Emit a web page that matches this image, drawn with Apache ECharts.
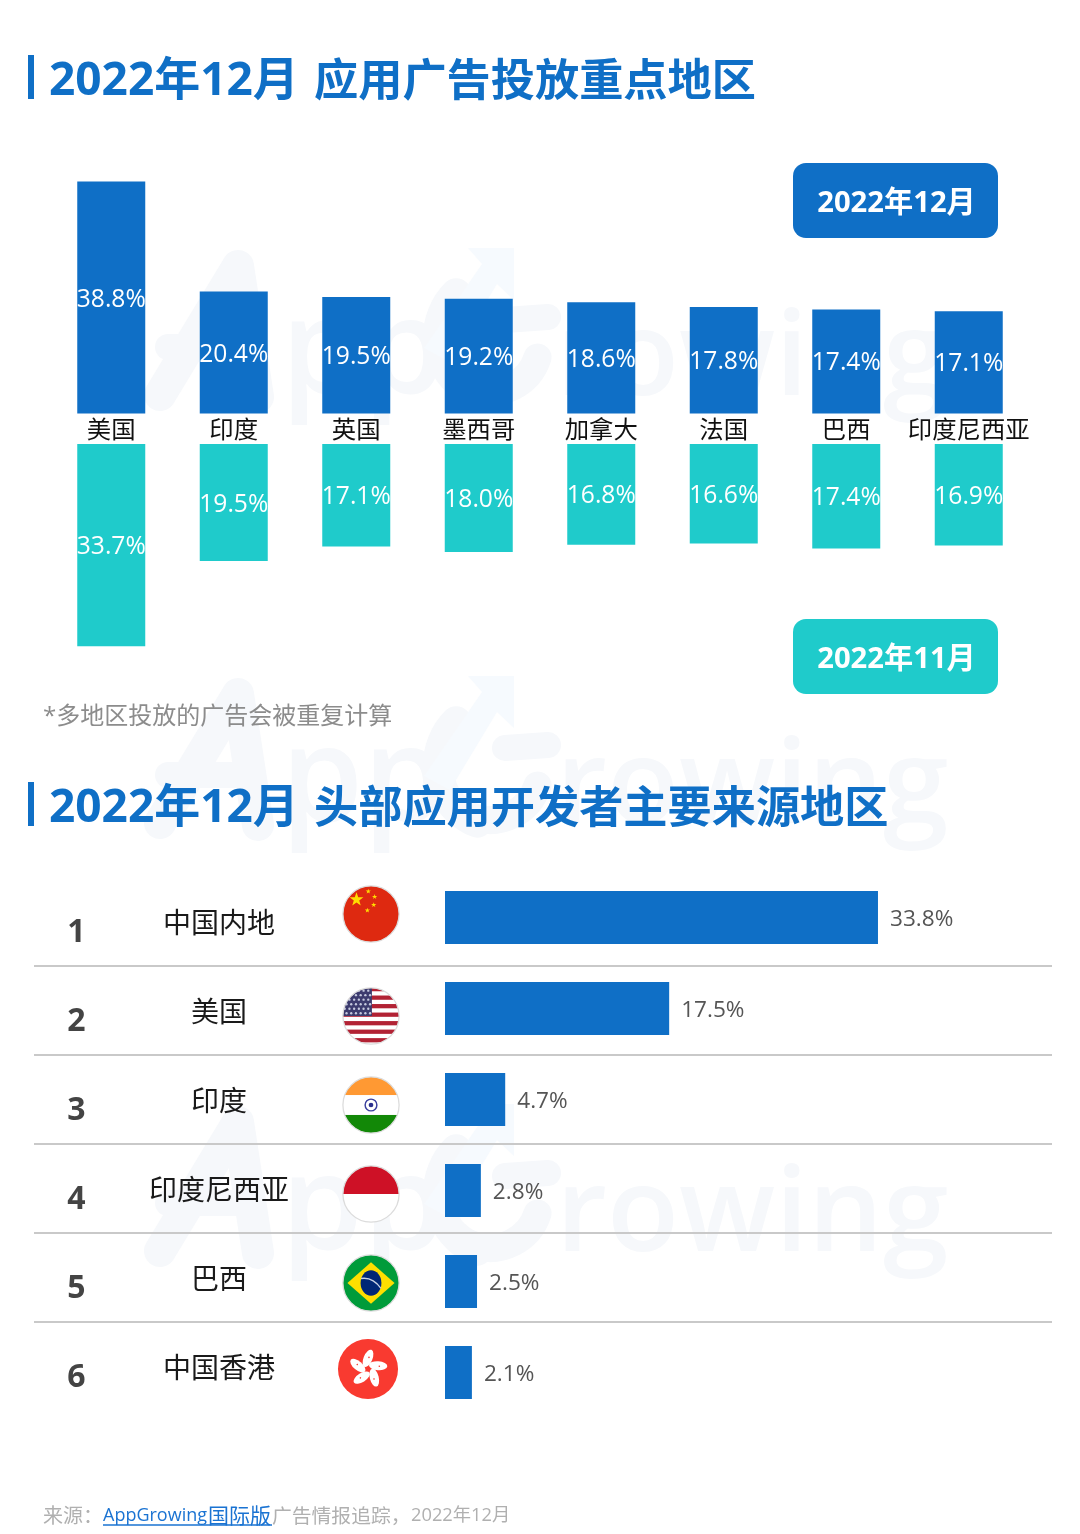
<!DOCTYPE html>
<html>
<head>
<meta charset="utf-8">
<title>AppGrowing</title>
<script src="https://cdn.jsdelivr.net/npm/echarts@6/dist/echarts.min.js"></script>
<style>
html,body{margin:0;padding:0;background:#fff;}
#main{width:1080px;height:1534px;}
</style>
</head>
<body>
<div id="main"></div>
<script>
// top chart: share of ads per region
var regions = ['美国','印度','英国','墨西哥','加拿大','法国','巴西','印度尼西亚'];
var dec2022 = [38.8,20.4,19.5,19.2,18.6,17.8,17.4,17.1];
var nov2022 = [33.7,19.5,17.1,18.0,16.8,16.6,17.4,16.9];
// bottom chart: developer origin
var ranks = ['1','2','3','4','5','6'];
var devRegions = ['中国内地','美国','印度','印度尼西亚','巴西','中国香港'];
var devShare = [33.8,17.5,4.7,2.8,2.5,2.1];

var BLUE = '#0f6fc6', TEAL = '#1fcbcb', WM = '#f6f8fb';
var FONT = '"Open Sans","Noto Sans CJK SC",sans-serif';
var CJK = '"Noto Sans CJK SC"';

function svgUri(size, body, noRing){
  var s = '<svg xmlns="http://www.w3.org/2000/svg" width="'+size+'" height="'+size+'" viewBox="0 0 64 64">'+
    '<defs><clipPath id="c"><circle cx="32" cy="32" r="31"/></clipPath></defs>'+
    '<circle cx="32" cy="32" r="31" fill="#fff"/>'+
    '<g clip-path="url(#c)">'+body+'</g>'+
    (noRing ? '' : '<circle cx="32" cy="32" r="31" fill="none" stroke="#dcdcdc" stroke-width="1.4"/>')+'</svg>';
  return 'data:image/svg+xml;charset=utf-8,'+encodeURIComponent(s);
}
function star(x,y,r){
  var p = [];
  for(var i=0;i<10;i++){
    var a = -Math.PI/2+i*Math.PI/5, q = i%2 ? r*0.4 : r;
    p.push((x+q*Math.cos(a)).toFixed(1)+','+(y+q*Math.sin(a)).toFixed(1));
  }
  return '<polygon fill="#ffde00" points="'+p.join(' ')+'"/>';
}
function flagChina(){
  return '<rect width="64" height="64" fill="#de2910"/>'+star(16,16,8)+star(29,7,3)+star(36,13,3)+star(35,22,3)+star(28,28,3);
}
function flagUs(){
  var s = '<rect width="64" height="64" fill="#fff"/>', i, j;
  for(i=0;i<7;i++){
    s += '<rect x="0" y="'+(i*9.4)+'" width="64" height="4.7" fill="#b22234"/>';
  }
  s += '<rect width="33" height="32" fill="#3c3b6e"/>';
  for(i=0;i<6;i++){
    for(j=0;j<6;j++){
      s += '<circle cx="'+(3+j*5.2+(i%2)*2)+'" cy="'+(4+i*5)+'" r="1.3" fill="#c5c9de"/>';
    }
  }
  return s;
}
function flagIndia(){
  return '<rect width="64" height="21" fill="#ff9933"/><rect y="43" width="64" height="21" fill="#128807"/>'+
    '<circle cx="32" cy="32" r="6.5" fill="#fff" stroke="#3a3f9e" stroke-width="1.6"/><circle cx="32" cy="32" r="2.6" fill="#2a2f8e"/>';
}
function flagIndonesia(){
  return '<rect width="64" height="32" fill="#ce1126"/>';
}
function flagBrazil(){
  return '<rect width="64" height="64" fill="#009b3a"/><polygon fill="#fedf00" points="32,9 58,32 32,55 6,32"/>'+
    '<ellipse cx="32" cy="32" rx="11.5" ry="14" fill="#002776"/><path d="M21 27 Q34 25 43 38" fill="none" stroke="#c8d2e4" stroke-width="1.5"/>';
}
function flagHk(){
  var s = '<rect width="64" height="64" fill="#f93a30"/>';
  for(var i=0;i<5;i++){
    s += '<ellipse cx="32" cy="21" rx="4.6" ry="9.5" fill="#fff" transform="rotate('+(i*72)+' 32 32) rotate(22 32 21)"/>';
    s += '<circle cx="33" cy="20" r="0.8" fill="#f93a30" transform="rotate('+(i*72)+' 32 32)"/>';
  }
  return s;
}

// faint AppGrowing mark, repeated behind the charts
function watermark(dy){
  var st = {stroke:WM,lineCap:'round',lineJoin:'round',fill:null};
  return [
    {type:'polyline',z:0,silent:true,shape:{points:[[160,823],[238,694],[258,825]]},style:Object.assign({lineWidth:32},st)},
    {type:'line',z:0,silent:true,shape:{x1:168,y1:775,x2:250,y2:775},style:Object.assign({lineWidth:26},st)},
    {type:'text',z:0,silent:true,x:281,y:717,style:{text:'pp',font:'600 132px "Open Sans"',fill:WM}},
    {type:'arc',z:0,silent:true,shape:{cx:500,cy:765,r:62,startAngle:Math.PI*0.62,endAngle:Math.PI*1.25},style:Object.assign({lineWidth:30},st)},
    {type:'arc',z:0,silent:true,shape:{cx:490,cy:770,r:50,startAngle:Math.PI*0.1,endAngle:Math.PI*0.75},style:Object.assign({lineWidth:28},st)},
    {type:'polygon',z:0,silent:true,shape:{points:[[468,676],[514,676],[514,728],[497,712],[450,790],[424,776],[482,692]]},style:{fill:'#f6fafe'}},
    {type:'line',z:0,silent:true,shape:{x1:505,y1:748,x2:548,y2:745},style:Object.assign({lineWidth:26},st)},
    {type:'text',z:0,silent:true,x:556,y:730,style:{text:'rowing',font:'600 118px "Open Sans"',fill:WM}}
  ].map(function(e){
    if(e.type=='text'){ e.y += dy; return e; }
    e.y = dy;
    return e;
  });
}

function heading(y, rest){
  return [
    {type:'rect',z:3,shape:{x:28,y:y,width:6,height:44},style:{fill:BLUE}},
    {type:'text',z:3,x:49,y:y+27,style:{text:'2022年12月',font:'bold 46px '+FONT,fill:BLUE,textVerticalAlign:'middle'}},
    {type:'text',z:3,x:314,y:y+24,style:{text:rest,font:'bold 44.2px '+CJK,fill:BLUE,textVerticalAlign:'middle'}}
  ];
}
function pill(y, text, color){
  return [
    {type:'rect',z:3,shape:{x:793,y:y,width:205,height:75,r:13},style:{fill:color}},
    {type:'text',z:4,x:896.5,y:y+41,style:{text:text,font:'bold 29.2px '+FONT,fill:'#fff',textAlign:'center',textVerticalAlign:'middle'}}
  ];
}
function flag(body, cx, cy, size, noRing){
  return {type:'image',z:5,silent:true,style:{image:svgUri(size,body,noRing),x:cx-size/2,y:cy-size/2,width:size,height:size}};
}
function note(x, y, text, font, color){
  return {type:'text',z:3,x:x,y:y,style:{text:text,font:font,fill:color,textVerticalAlign:'middle'}};
}

var elements = [].concat(
  watermark(-428), watermark(0), watermark(428),
  heading(55,'应用广告投放重点地区'),
  heading(782,'头部应用开发者主要来源地区'),
  pill(163,'2022年12月',BLUE),
  pill(619,'2022年11月',TEAL),
  [
    note(43,717,'*多地区投放的广告会被重复计算','24px '+FONT,'#8c8c8c'),
    flag(flagChina(),371,914,58),
    flag(flagUs(),371,1016,58),
    flag(flagIndia(),371,1105,58),
    flag(flagIndonesia(),371,1194,58),
    flag(flagBrazil(),371,1283,58),
    flag(flagHk(),368,1369,62,true),
    note(43,1515,'来源：','20px '+CJK,'#b0b0b0'),
    note(103,1516,'AppGrowing','18px "Open Sans"','#1a73d2'),
    note(208,1515,'国际版','21px '+CJK,'#1a73d2'),
    {type:'line',z:3,shape:{x1:103,y1:1525,x2:272,y2:1525},style:{stroke:'#1a73d2',lineWidth:1.5}},
    note(272,1515,'广告情报追踪，','19.8px '+CJK,'#b0b0b0'),
    note(411,1516,'2022年12月','18.3px '+FONT,'#b0b0b0')
  ]
);
[966,1055,1144,1233,1322].forEach(function(y){
  elements.push({type:'line',z:1,shape:{x1:34,y1:y,x2:1052,y2:y},style:{stroke:'#c9c9c9',lineWidth:2}});
});

function pct(p){ return p.value.toFixed(1)+'%'; }
var hidden = {show:false};
var chart = echarts.init(document.getElementById('main'));
chart.setOption({
  animation:false,
  backgroundColor:'#fff',
  textStyle:{fontFamily:FONT},
  grid:[
    {left:50,width:980,top:174.3,height:239.2},
    {left:50,width:980,top:444,height:240},
    {left:445,width:512.4,top:872,height:546},
    {left:300,width:10,top:881,height:534},
    {left:300,width:10,top:888.5,height:534}
  ],
  xAxis:[
    {type:'category',gridIndex:0,data:regions,axisLine:hidden,axisTick:hidden,
      axisLabel:{interval:0,margin:5.5,fontSize:24.4,color:'#111',fontFamily:FONT}},
    {type:'category',gridIndex:1,data:regions,show:false},
    {type:'value',gridIndex:2,min:0,max:40,show:false},
    {type:'value',gridIndex:3,show:false},
    {type:'value',gridIndex:4,show:false}
  ],
  yAxis:[
    {type:'value',gridIndex:0,min:0,max:40,show:false},
    {type:'value',gridIndex:1,min:0,max:40,inverse:true,show:false},
    {type:'category',gridIndex:2,data:devRegions,inverse:true,show:false},
    {type:'category',gridIndex:3,data:devRegions,inverse:true,axisLine:hidden,axisTick:hidden,
      axisLabel:{interval:0,margin:81,align:'center',fontSize:28,color:'#1a1a1a',fontFamily:FONT}},
    {type:'category',gridIndex:4,data:ranks,inverse:true,axisLine:hidden,axisTick:hidden,
      axisLabel:{interval:0,margin:223.5,align:'center',fontSize:32,fontWeight:'bold',color:'#444',fontFamily:FONT}}
  ],
  series:[
    {type:'bar',name:'2022年12月',xAxisIndex:0,yAxisIndex:0,data:dec2022,barWidth:68,itemStyle:{color:BLUE},
      label:{show:true,position:'inside',offset:[0,2],fontSize:24.6,color:'#fff',fontFamily:FONT,formatter:pct}},
    {type:'bar',name:'2022年11月',xAxisIndex:1,yAxisIndex:1,data:nov2022,barWidth:68,itemStyle:{color:TEAL},
      label:{show:true,position:'inside',offset:[0,2],fontSize:24.6,color:'#fff',fontFamily:FONT,formatter:pct}},
    {type:'bar',name:'开发者',xAxisIndex:2,yAxisIndex:2,data:devShare,barWidth:53,itemStyle:{color:BLUE},
      label:{show:true,position:'right',distance:12,offset:[0,2],fontSize:22.6,color:'#555',fontFamily:FONT,formatter:pct}}
  ],
  graphic:{elements:elements}
});
</script>
</body>
</html>
